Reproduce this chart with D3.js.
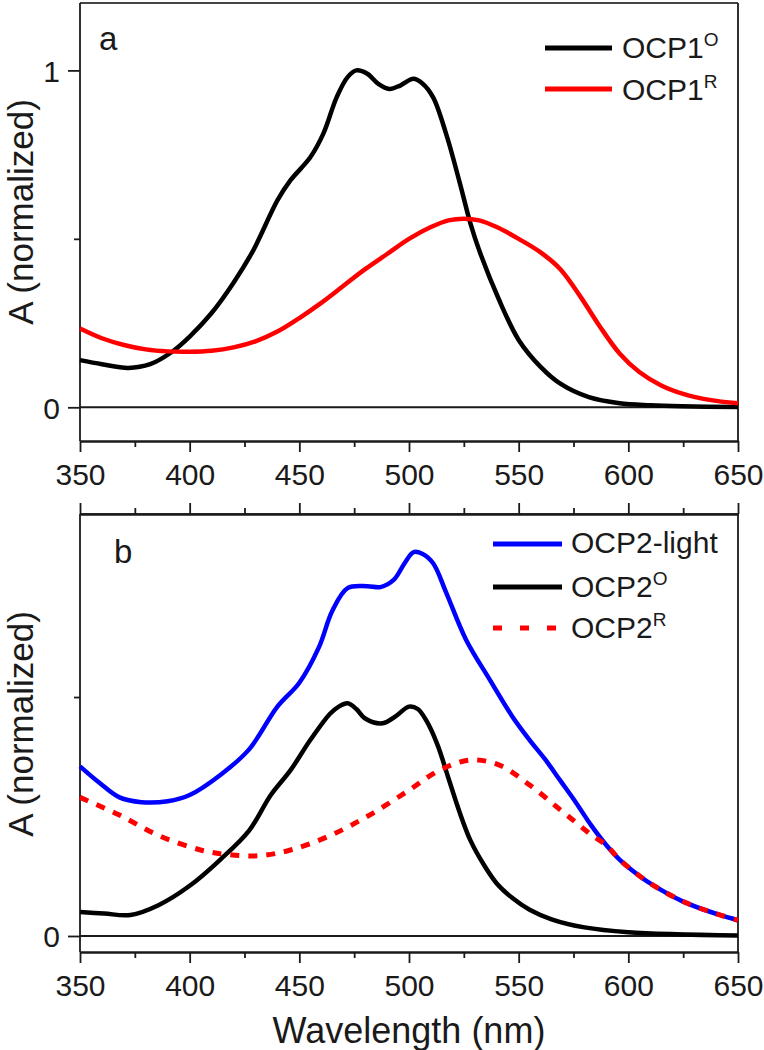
<!DOCTYPE html>
<html><head><meta charset="utf-8">
<script src="https://cdn.jsdelivr.net/npm/d3@7"></script>
<style>
html,body{margin:0;padding:0;background:#fff;}
svg text{font-family:"Liberation Sans",Arial,sans-serif;fill:#1a1a1a;}
</style></head>
<body><svg id="chart" width="764" height="1050"></svg>
<script>
// ---------- data ----------
const xTicksMajor = [350, 400, 450, 500, 550, 600, 650];
const xTicksMinor = [375, 425, 475, 525, 575, 625];

// Panel a
const ocp1oWl = [350,360,372,382,392,400,410,420,429,440,446,455,461,467,472,476,481,486,491,496,502,506,511,517,523,528,532,541,550,560,569,582,596,610,624,650];
const ocp1oA  = [0.14,0.128,0.117,0.128,0.165,0.21,0.28,0.37,0.466,0.614,0.674,0.742,0.813,0.92,0.98,1.0,0.99,0.96,0.945,0.955,0.975,0.962,0.92,0.81,0.67,0.546,0.466,0.32,0.2,0.12,0.07,0.03,0.012,0.006,0.003,0.001];
const ocp1rWl = [350,360,370,380,390,400,410,420,430,440,450,460,470,480,490,500,510,518,525,532,540,550,560,569,578,587,596,605,615,625,637,650];
const ocp1rA  = [0.234,0.205,0.185,0.172,0.166,0.165,0.168,0.178,0.196,0.225,0.265,0.31,0.36,0.41,0.455,0.5,0.535,0.555,0.56,0.555,0.535,0.5,0.46,0.41,0.33,0.24,0.16,0.105,0.065,0.04,0.022,0.012];

// Panel b
const ocp2lightWl = [350,359,368,378,390,400,414,427,440,450,459,465,472,481,487,493,498,502,506,511,517,526,537,547,555,562,569,576,583,590,596,603,610,625,641,650];
const ocp2lightA  = [0.355,0.32,0.29,0.28,0.282,0.295,0.337,0.39,0.48,0.53,0.605,0.68,0.728,0.732,0.73,0.745,0.78,0.803,0.8,0.78,0.718,0.62,0.535,0.46,0.41,0.37,0.325,0.28,0.232,0.19,0.16,0.133,0.11,0.072,0.045,0.033];
const ocp2oWl = [350,361,373,386,400,414,427,437,446,455,464,468,472,476,480,488,494,500,504,508,513,518,523,528,534,540,547,555,565,580,600,650];
const ocp2oA  = [0.05,0.047,0.044,0.065,0.105,0.16,0.22,0.295,0.347,0.41,0.465,0.48,0.487,0.475,0.455,0.445,0.46,0.48,0.475,0.45,0.4,0.33,0.26,0.2,0.15,0.11,0.08,0.055,0.035,0.018,0.008,0.001];
const ocp2rWl = [350,368,386,405,418,432,446,464,482,500,514,528,541,555,569,576,583,590,596,603,610,625,641,650];
const ocp2rA  = [0.29,0.253,0.21,0.18,0.17,0.168,0.18,0.21,0.253,0.305,0.347,0.368,0.358,0.316,0.264,0.238,0.212,0.19,0.16,0.133,0.11,0.072,0.045,0.033];

// ---------- layout ----------
const svg = d3.select("#chart");
const L = 80, R = 738;
const x = d3.scaleLinear().domain([350, 650]).range([L, R]);
const ya = d3.scaleLinear().domain([-0.1, 1.2]).range([441, 3]);
const yb = d3.scaleLinear().domain([-0.0335, 0.883]).range([952, 514]);
const AX = "#1a1a1a";

function line(yS, wl, a) {
  return d3.line().x((d,i)=>x(wl[i])).y(d=>yS(d)).curve(d3.curveCatmullRom.alpha(0.5))(a);
}
function styleAxis(g) {
  g.selectAll("path.domain").attr("stroke", AX).attr("stroke-width", 1.8);
  g.selectAll(".tick line").attr("stroke", AX).attr("stroke-width", 1.8);
  g.selectAll(".tick text").attr("fill", "#1a1a1a")
    .style("font-family", '"Liberation Sans",Arial,sans-serif').style("font-size", "30px");
}

function panel(yS, y0, y1, opts) {
  const g = svg.append("g");
  g.append("line").attr("x1", L).attr("x2", R).attr("y1", y1).attr("y2", y1).attr("stroke", "#444").attr("stroke-width", 1.8);
  g.append("line").attr("x1", R).attr("x2", R).attr("y1", y1).attr("y2", y0).attr("stroke", AX).attr("stroke-width", 1.8);
  g.append("line").attr("x1", L).attr("x2", L).attr("y1", y1).attr("y2", y0).attr("stroke", AX).attr("stroke-width", 1.8);
  const bx = g.append("g").attr("transform", `translate(0,${y0})`)
    .call(d3.axisBottom(x).tickValues(xTicksMajor).tickFormat(d3.format("d")).tickSizeInner(11).tickSizeOuter(0).tickPadding(10));
  styleAxis(bx);
  bx.selectAll(".tick text").attr("dy", null).attr("y", 44);
  const bxm = g.append("g").attr("transform", `translate(0,${y0})`)
    .call(d3.axisBottom(x).tickValues(xTicksMinor).tickFormat("").tickSizeInner(6).tickSizeOuter(0));
  styleAxis(bxm);
  if (opts.topTicks) {
    const tx = g.append("g").attr("transform", `translate(0,${y1})`)
      .call(d3.axisTop(x).tickValues(xTicksMajor).tickFormat("").tickSizeInner(11).tickSizeOuter(0));
    styleAxis(tx);
    const txm = g.append("g").attr("transform", `translate(0,${y1})`)
      .call(d3.axisTop(x).tickValues(xTicksMinor).tickFormat("").tickSizeInner(6).tickSizeOuter(0));
    styleAxis(txm);
  }
  const ly = g.append("g").attr("transform", `translate(${L},0)`)
    .call(d3.axisLeft(yS).tickValues(opts.yMajor).tickFormat(d3.format("d")).tickSizeInner(12).tickSizeOuter(0).tickPadding(8));
  styleAxis(ly);
  ly.select("path.domain").remove();
  ly.selectAll(".tick text").attr("dy", "0.36em");
  const lym = g.append("g").attr("transform", `translate(${L},0)`)
    .call(d3.axisLeft(yS).tickValues(opts.yMinor).tickFormat("").tickSizeInner(6).tickSizeOuter(0));
  styleAxis(lym);
  lym.select("path.domain").remove();
  g.append("line").attr("x1", L).attr("x2", R).attr("y1", yS(0)).attr("y2", yS(0)).attr("stroke", AX).attr("stroke-width", 2);
  g.append("text").attr("transform", `translate(33,${opts.labelY}) rotate(-90)`)
    .attr("text-anchor", "middle").style("font-size", "35px").text("A (normalized)");
  g.append("text").attr("x", opts.letterX).attr("y", opts.letterY).style("font-size", "33px").text(opts.letter);
  return g;
}

const ga = panel(ya, 441, 3, {yMajor:[0,1], yMinor:[0.5], labelY:212, letter:"a", letterX:99, letterY:50, topTicks:false});
const gb = panel(yb, 952, 514, {yMajor:[0], yMinor:[0.5], labelY:724, letter:"b", letterX:114, letterY:563, topTicks:true});

ga.append("path").attr("d", line(ya, ocp1oWl, ocp1oA)).attr("fill","none").attr("stroke","#000").attr("stroke-width",4.5).attr("stroke-linejoin","round");
ga.append("path").attr("d", line(ya, ocp1rWl, ocp1rA)).attr("fill","none").attr("stroke","#ff0000").attr("stroke-width",4.5).attr("stroke-linejoin","round");

gb.append("path").attr("d", line(yb, ocp2lightWl, ocp2lightA)).attr("fill","none").attr("stroke","#0000ff").attr("stroke-width",4.5).attr("stroke-linejoin","round");
gb.append("path").attr("d", line(yb, ocp2oWl, ocp2oA)).attr("fill","none").attr("stroke","#000").attr("stroke-width",4.5).attr("stroke-linejoin","round");
gb.append("path").attr("d", line(yb, ocp2rWl, ocp2rA)).attr("fill","none").attr("stroke","#ff0000").attr("stroke-width",5).attr("stroke-dasharray","9,9");

function legendItem(g, x1, x2, y, color, dash, main, sup, textX, base) {
  const l = g.append("line").attr("x1",x1).attr("x2",x2).attr("y1",y).attr("y2",y).attr("stroke",color).attr("stroke-width",5);
  if (dash) l.attr("stroke-dasharray", dash);
  const t = g.append("text").attr("x", textX).attr("y", base).style("font-size","30px");
  t.append("tspan").text(main);
  if (sup) t.append("tspan").attr("dy",-12).style("font-size","19px").text(sup);
}
legendItem(ga, 545, 612, 48, "#000", null, "OCP1", "O", 622, 58);
legendItem(ga, 545, 612, 89, "#ff0000", null, "OCP1", "R", 622, 100);
legendItem(gb, 493, 562, 544, "#0000ff", null, "OCP2-light", null, 571, 553);
legendItem(gb, 493, 562, 587, "#000", null, "OCP2", "O", 571, 597);
legendItem(gb, 493, 562, 628, "#ff0000", "9,18", "OCP2", "R", 571, 638);

svg.append("text").attr("x", 409).attr("y", 1043).attr("text-anchor","middle").style("font-size","36px").text("Wavelength (nm)");
</script></body></html>
